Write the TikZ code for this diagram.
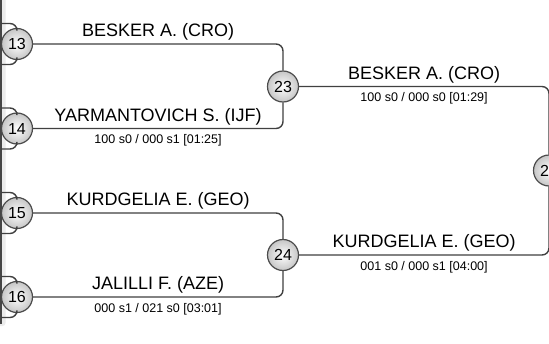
\documentclass[tikz,border=0pt]{standalone}
\usepackage{fontspec}
\setmainfont{Liberation Sans}
\usetikzlibrary{positioning}

\begin{document}
\begin{tikzpicture}[
    x=1pt, y=-1pt,
    match/.style={circle, draw=gray!60!black, line width=1.2pt, inner color=white, outer color=gray!45, minimum size=31pt, inner sep=0pt, font=\fontsize{16}{16}\selectfont},
    link/.style={draw=gray!50!black, line width=1.4pt, rounded corners=7pt},
    player/.style={pos=0.25, anchor=base, yshift=7.5pt, inner sep=0pt, font=\fontsize{18}{18}\selectfont},
    score/.style={pos=0.25, anchor=base, yshift=-15pt, inner sep=0pt, font=\fontsize{12.5}{12.5}\selectfont},
]
    \useasboundingbox[fill=white] (0,0) rectangle (549,343);

    % edge of the previous round
    \fill[gray!15, rounded corners=3pt] (-4,-10) rectangle (5.5,326);
    \draw[gray!55!black, line width=1.6pt] (1,-10) -- (1,324);

    \node[match] (m13) at (17,44) {13};
    \node[match] (m14) at (17,128.5) {14};
    \node[match] (m15) at (17,213) {15};
    \node[match] (m16) at (17,297) {16};
    \node[match] (m23) at (283,86.5) {23};
    \node[match] (m24) at (283,255) {24};
    \node[match] (m32) at (549,170.5) {2\phantom{0}};

    \coordinate (s13a) at (1,23.5);
    \coordinate (s13b) at (1,64.5);
    \coordinate (s14a) at (1,108);
    \coordinate (s14b) at (1,149);
    \coordinate (s15a) at (1,192.5);
    \coordinate (s15b) at (1,233.5);
    \coordinate (s16a) at (1,276.5);
    \coordinate (s16b) at (1,317.5);

    \draw[link] (s13a) -| (m13);
    \draw[link] (s13b) -| (m13);
    \draw[link] (s14a) -| (m14);
    \draw[link] (s14b) -| (m14);
    \draw[link] (s15a) -| (m15);
    \draw[link] (s15b) -| (m15);
    \draw[link] (s16a) -| (m16);
    \draw[link] (s16b) -| (m16);

    \draw[link] (m13) -| node[player] (p13) {BESKER A. (CRO)} (m23);
    \draw[link] (m14) -| node[player] (p14) {YARMANTOVICH S. (IJF)}
        node[score] (r23) {100 s0 / 000 s1 [01:25]} (m23);
    \draw[link] (m15) -| node[player] (p15) {KURDGELIA E. (GEO)} (m24);
    \draw[link] (m16) -| node[player] (p16) {JALILLI F. (AZE)}
        node[score] (r24) {000 s1 / 021 s0 [03:01]} (m24);

    \draw[link] (m23) -| node[player] (p23) {BESKER A. (CRO)}
        node[score] (r32a) {100 s0 / 000 s0 [01:29]} (m32);
    \draw[link] (m24) -| node[player] (p24) {KURDGELIA E. (GEO)}
        node[score] (r32b) {001 s0 / 000 s1 [04:00]} (m32);
\end{tikzpicture}
\end{document}
